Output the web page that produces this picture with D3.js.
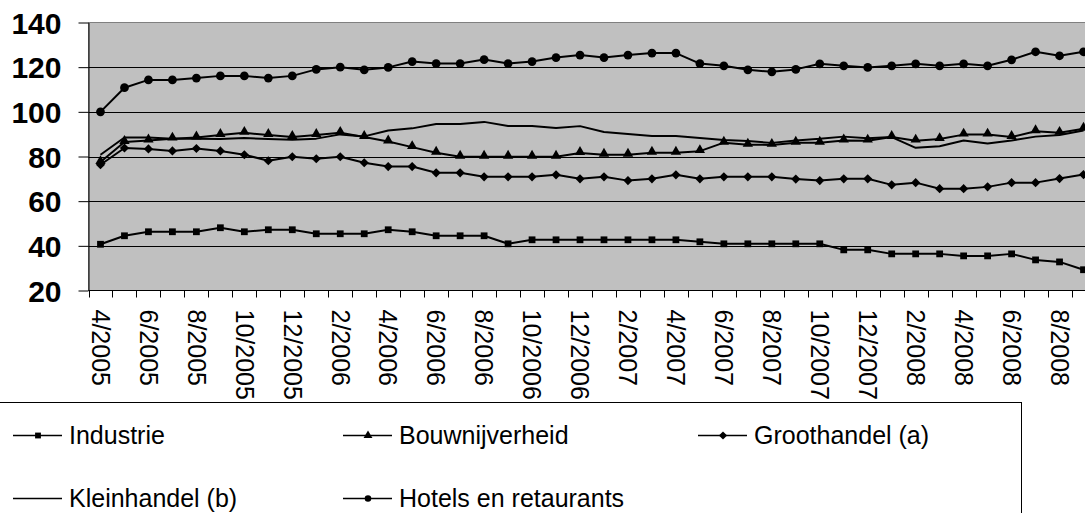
<!DOCTYPE html>
<html>
<head>
<meta charset="utf-8">
<script src="https://cdn.jsdelivr.net/npm/d3@7"></script>
<style>
  body { margin: 0; background: #fff; }
  svg { display: block; font-family: Arial, "Liberation Sans", sans-serif; }
</style>
</head>
<body>
<div id="chart"></div>
<script>
// months on the x axis
var months = ["4/2005","5/2005","6/2005","7/2005","8/2005","9/2005","10/2005","11/2005","12/2005",
  "1/2006","2/2006","3/2006","4/2006","5/2006","6/2006","7/2006","8/2006","9/2006","10/2006","11/2006","12/2006",
  "1/2007","2/2007","3/2007","4/2007","5/2007","6/2007","7/2007","8/2007","9/2007","10/2007","11/2007","12/2007",
  "1/2008","2/2008","3/2008","4/2008","5/2008","6/2008","7/2008","8/2008","9/2008"];

var industrie = [40.7,44.5,46.3,46.3,46.3,48.1,46.3,47.2,47.2,45.4,45.4,45.4,47.2,46.3,44.5,44.5,44.5,40.9,42.7,42.7,42.7,
  42.7,42.7,42.7,42.7,41.8,40.9,40.9,40.9,40.9,40.9,38.2,38.2,36.4,36.4,36.4,35.5,35.5,36.4,33.7,32.8,29.3];
var bouw = [77.5,86.5,87.2,88.0,88.5,89.6,90.6,89.6,88.7,89.6,90.6,88.7,86.7,84.2,81.7,79.9,79.9,79.9,79.9,79.9,81.6,
  80.8,80.8,81.7,81.7,82.4,86.2,85.3,85.2,86.2,86.2,87.2,87.1,88.7,87.1,87.8,89.8,89.8,88.7,91.3,90.6,92.4];
var groothandel = [76.3,83.8,83.4,82.5,83.6,82.5,80.8,78.1,79.9,79.0,79.9,77.2,75.5,75.5,72.7,72.7,70.9,70.9,70.9,71.8,70.0,
  70.9,69.2,70.0,71.8,70.0,70.9,70.9,70.9,69.9,69.2,70.0,70.0,67.3,68.3,65.6,65.6,66.4,68.3,68.3,70.1,71.9];
var kleinhandel = [80.8,88.5,88.5,88.0,88.0,87.8,88.3,87.8,87.5,88.0,89.9,89.0,91.6,92.6,94.6,94.6,95.5,93.7,93.7,92.8,93.6,
  91.0,90.1,89.2,89.2,88.3,87.4,86.9,86.1,87.2,87.9,88.9,88.2,88.7,83.9,84.6,87.2,85.8,87.2,88.9,89.6,91.6];
var hotels = [100,110.8,114.3,114.3,115.1,116.1,116.1,115.1,116.1,119.0,120.0,118.8,119.9,122.5,121.6,121.6,123.4,121.6,122.5,124.3,125.4,
  124.3,125.4,126.3,126.3,121.6,120.6,118.8,117.9,119.0,121.5,120.6,119.9,120.6,121.5,120.6,121.5,120.6,123.3,126.9,125.1,126.9];

var yTicks = [20, 40, 60, 80, 100, 120, 140];

var series = [
  {name: "Industrie", values: industrie, marker: "square"},
  {name: "Bouwnijverheid", values: bouw, marker: "triangle"},
  {name: "Groothandel (a)", values: groothandel, marker: "diamond"},
  {name: "Kleinhandel (b)", values: kleinhandel, marker: "none"},
  {name: "Hotels en retaurants", values: hotels, marker: "circle"}
];

var W = 1085, H = 513;
var plot = {left: 88.5, right: 1095.5, top: 22.5, bottom: 290.5};

var svg = d3.select("#chart").append("svg")
  .attr("width", W)
  .attr("height", H);

var x = d3.scaleBand().domain(months).range([plot.left, plot.right]);
var y = d3.scaleLinear().domain([20, 140]).range([plot.bottom, plot.top]);

// plot area
svg.append("rect")
  .attr("x", plot.left).attr("y", plot.top)
  .attr("width", plot.right - plot.left)
  .attr("height", plot.bottom - plot.top)
  .attr("fill", "#c0c0c0")
  .attr("stroke", "#808080")
  .attr("stroke-width", 1);

// gridlines
svg.append("g").selectAll("line")
  .data(yTicks.filter(function(d) { return d > 20 && d < 140; }))
  .enter().append("line")
  .attr("x1", plot.left).attr("x2", plot.right)
  .attr("y1", function(d) { return Math.round(y(d)) + 0.5; })
  .attr("y2", function(d) { return Math.round(y(d)) + 0.5; })
  .attr("stroke", "#000")
  .attr("stroke-width", 1);

// y axis
var yAxis = d3.axisLeft(y).tickValues(yTicks).tickSize(10).tickSizeOuter(0).tickPadding(17);
var gy = svg.append("g").attr("transform", "translate(" + plot.left + ",0)").call(yAxis);
gy.select(".domain").attr("stroke", "#000");
gy.selectAll("text")
  .style("font-size", "30px")
  .style("font-weight", "bold")
  .attr("fill", "#000")
  .attr("dy", "0.36em");

// x axis: ticks on the band edges
var edges = months.map(function(m) { return x(m); });
svg.append("line")
  .attr("x1", plot.left).attr("x2", plot.right)
  .attr("y1", plot.bottom).attr("y2", plot.bottom)
  .attr("stroke", "#000");
svg.append("g").selectAll("line")
  .data(edges)
  .enter().append("line")
  .attr("x1", function(d) { return Math.round(d) + 0.5; })
  .attr("x2", function(d) { return Math.round(d) + 0.5; })
  .attr("y1", plot.bottom).attr("y2", plot.bottom + 7)
  .attr("stroke", "#000");

svg.append("g").selectAll("text")
  .data(months.filter(function(m, i) { return i % 2 == 0; }))
  .enter().append("text")
  .text(function(d) { return d; })
  .attr("transform", function(d) {
    return "translate(" + (x(d) + x.bandwidth() / 2) + "," + (plot.bottom + 19) + ") rotate(90)";
  })
  .attr("dy", "0.35em")
  .style("font-size", "25px")
  .attr("fill", "#000");

// markers
function markerPath(type, size) {
  if (type == "square") return d3.symbol(d3.symbolSquare, size)();
  if (type == "triangle") return d3.symbol(d3.symbolTriangle, size)();
  if (type == "diamond") return d3.symbol(d3.symbolSquare, size)();
  if (type == "circle") return d3.symbol(d3.symbolCircle, size)();
  return null;
}
var markerSize = {square: 46, triangle: 46, diamond: 42, circle: 60};

var line = d3.line()
  .x(function(d, i) { return x(months[i]) + x.bandwidth() / 2; })
  .y(function(d) { return y(d); });

var lines = svg.append("g");
series.forEach(function(s) {
  lines.append("path")
    .attr("d", line(s.values))
    .attr("fill", "none")
    .attr("stroke", "#000")
    .attr("stroke-width", 2)
    .attr("stroke-linejoin", "round");
  if (s.marker != "none") {
    lines.append("g").selectAll("path")
      .data(s.values)
      .enter().append("path")
      .attr("d", markerPath(s.marker, markerSize[s.marker]))
      .attr("transform", function(d, i) {
        var t = "translate(" + (x(months[i]) + x.bandwidth() / 2) + "," + y(d) + ")";
        if (s.marker == "diamond") t += " rotate(45)";
        if (s.marker == "triangle") t += " translate(0,-1)";
        return t;
      })
      .attr("fill", "#000");
  }
});

// legend
svg.append("rect")
  .attr("x", -1).attr("y", 402.5)
  .attr("width", 1022.5).attr("height", 130)
  .attr("fill", "#fff")
  .attr("stroke", "#000")
  .attr("stroke-width", 1);

var legendPos = [
  {x: 13, y: 435}, {x: 343, y: 435}, {x: 698, y: 435},
  {x: 13, y: 498}, {x: 343, y: 498}
];
var lg = svg.append("g").selectAll("g")
  .data(series)
  .enter().append("g")
  .attr("transform", function(d, i) { return "translate(" + legendPos[i].x + "," + legendPos[i].y + ")"; });
lg.append("line")
  .attr("x1", 0).attr("x2", 49)
  .attr("y1", 0.5).attr("y2", 0.5)
  .attr("stroke", "#000")
  .attr("stroke-width", 1.5);
lg.filter(function(d) { return d.marker != "none"; })
  .append("path")
  .attr("d", function(d) { return markerPath(d.marker, 34); })
  .attr("transform", function(d) { return "translate(25,0.5)" + (d.marker == "diamond" ? " rotate(45)" : ""); })
  .attr("fill", "#000");
lg.append("text")
  .text(function(d) { return d.name; })
  .attr("x", 56)
  .attr("y", 0)
  .attr("dy", "0.36em")
  .style("font-size", "25px")
  .attr("fill", "#000");
</script>
</body>
</html>
